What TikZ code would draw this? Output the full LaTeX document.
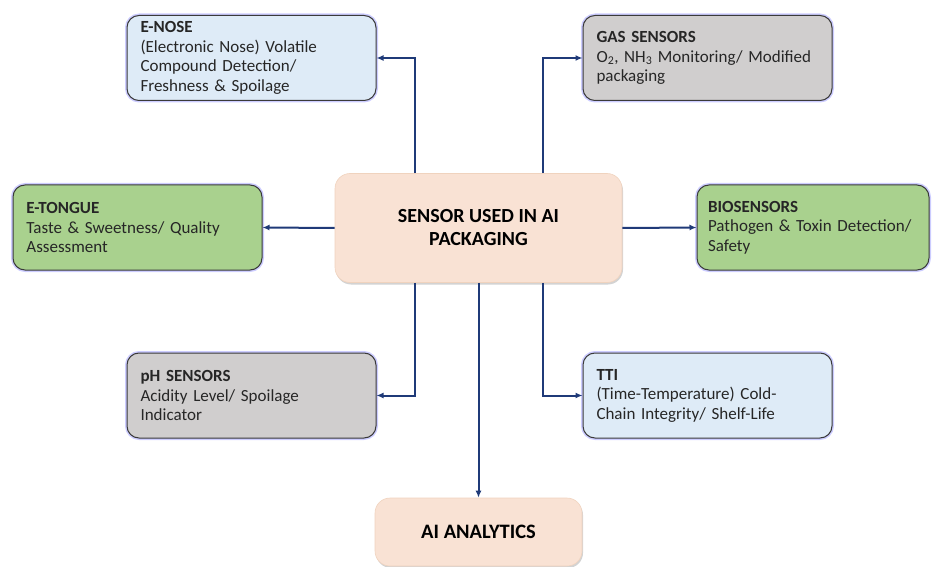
\documentclass[tikz,border=0pt]{standalone}
\usepackage{fontspec}
\setmainfont{Carlito}
\usetikzlibrary{shadows,arrows.meta}
\definecolor{navy}{HTML}{1F3A78}
\definecolor{paleblue}{HTML}{DEEBF7}
\definecolor{palegray}{HTML}{D0CECE}
\definecolor{palegreen}{HTML}{A9D18E}
\definecolor{peach}{HTML}{F9E2D4}
\definecolor{edge}{HTML}{3A3A3A}
\tikzset{
  sensorbox/.style={draw=edge, line width=1pt, rounded corners=12pt,
    preaction={draw=blue!20, line width=4pt},
    minimum width=249pt, minimum height=85pt, text width=222pt,
    align=left, font=\fontsize{17}{19.5}\selectfont, text=black!85},
  bluebox/.style={sensorbox, fill=paleblue},
  graybox/.style={sensorbox, fill=palegray},
  greenbox/.style={sensorbox, fill=palegreen},
  hubbox/.style={draw=peach!85!brown, line width=0.6pt, fill=peach,
    rounded corners=15pt, drop shadow={shadow xshift=1pt, shadow yshift=-2pt, opacity=0.35},
    align=center, font=\fontsize{20}{23}\selectfont\bfseries},
  arr/.style={draw=navy, line width=2pt, -{Latex[length=7pt,width=6pt]}}
}
\begin{document}
\begin{tikzpicture}[x=1pt,y=-1pt]
\useasboundingbox (0,0) rectangle (935,567);

% draw hub nodes
\node[hubbox, minimum width=287pt, minimum height=109pt] (hub) at (478.5,228)
  {SENSOR USED IN AI\\PACKAGING};
\node[hubbox, minimum width=207pt, minimum height=68pt, font=\fontsize{20.5}{23}\selectfont\bfseries] (analytics) at (478.5,532)
  {AI ANALYTICS};

% draw sensor nodes
\node[bluebox] (enose) at (251.5,58) {
  \textbf{E-NOSE}\\
  (Electronic Nose) Volatile\\
  Compound Detection/\\
  Freshness \& Spoilage
};
\node[graybox] (gas) at (707.5,58) {
  \textbf{GAS SENSORS}\\
  O\textsubscript{2}, NH\textsubscript{3} Monitoring/ Modified\\
  packaging
};
\node[greenbox] (tongue) at (137.5,227.5) {
  \textbf{E-TONGUE}\\
  Taste \& Sweetness/ Quality\\
  Assessment
};
\node[greenbox, minimum width=232pt, text width=210pt] (bio) at (813,227.5) {
  \textbf{BIOSENSORS}\\
  Pathogen \& Toxin Detection/\\
  Safety
};
\node[graybox] (ph) at (251.5,395.5) {
  \textbf{pH SENSORS}\\
  Acidity Level/ Spoilage\\
  Indicator
};
\node[bluebox] (tti) at (707.5,395.5) {
  \textbf{TTI}\\
  (Time-Temperature) Cold-\\
  Chain Integrity/ Shelf-Life
};

% draw connectors
\draw[arr] ([xshift=-64pt]hub.north) |- (enose.east);
\draw[arr] ([xshift=64pt]hub.north) |- (gas.west);
\draw[arr] (hub.west) -- (tongue.east);
\draw[arr] (hub.east) -- (bio.west);
\draw[arr] ([xshift=-64pt]hub.south) |- (ph.east);
\draw[arr] ([xshift=64pt]hub.south) |- (tti.west);
\draw[arr] (hub.south) -- (analytics.north);
\end{tikzpicture}
\end{document}
